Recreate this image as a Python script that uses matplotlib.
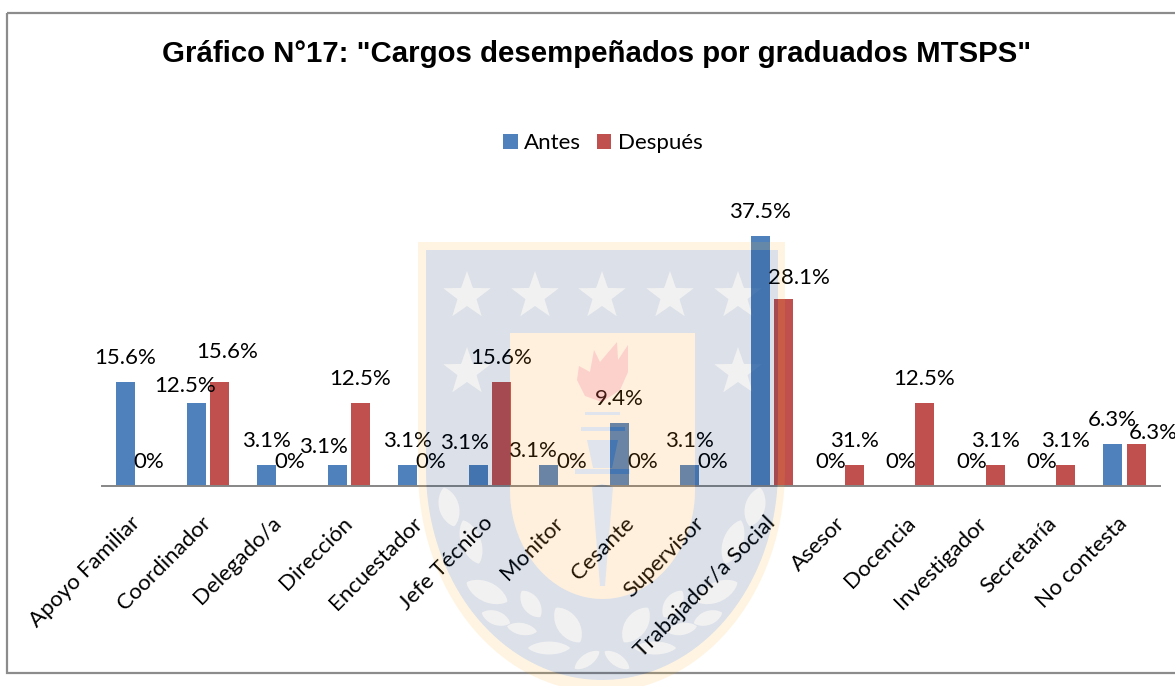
# -*- coding: utf-8 -*-
"""
Grafico N17: cargos desempenados por graduados MTSPS
"""

import numpy as np
import matplotlib
matplotlib.use('Agg')
import matplotlib.pyplot as plt
from matplotlib.path import Path
from matplotlib.patches import PathPatch, Polygon, Rectangle

categories = ['Apoyo Familiar', 'Coordinador', 'Delegado/a', 'Dirección', 'Encuestador',
              'Jefe Técnico', 'Monitor', 'Cesante', 'Supervisor', 'Trabajador/a Social',
              'Asesor', 'Docencia', 'Investigador', 'Secretaría', 'No contesta']
antes = [15.6, 12.5, 3.1, 3.1, 3.1, 3.1, 3.1, 9.4, 3.1, 37.5, 0, 0, 0, 0, 6.3]
despues = [0, 15.6, 0, 12.5, 0, 15.6, 0, 0, 0, 28.1, 3.1, 12.5, 3.1, 3.1, 6.3]
antes_labels = ['15.6%', '12.5%', '3.1%', '3.1%', '3.1%', '3.1%', '3.1%', '9.4%', '3.1%',
                '37.5%', '0%', '0%', '0%', '0%', '6.3%']
despues_labels = ['0%', '15.6%', '0%', '12.5%', '0%', '15.6%', '0%', '0%', '0%', '28.1%',
                  '31.%', '12.5%', '3.1%', '3.1%', '6.3%']

# hand-placed data labels in the original, offsets in pixels from the bar top
antes_nudge = {1: (-11, 17), 3: (-14, 18), 5: (-14, 22), 6: (-16, 14)}
despues_nudge = {1: (8, 30), 9: (15, 21), 14: (17, 11)}

W, H = 1175, 686
BLUE = '#4F81BD'
RED = '#C0504D'
TEXT_FONT = 'Lato'
TEXT_SIZE = 16

fig = plt.figure(figsize=(W / 100, H / 100), dpi=100)
ax = fig.add_axes([102 / W, 1 - 486 / H, (1159.5 - 102) / W, (486 - 219.3) / H])

x = np.arange(len(categories))
width = 19 / 70.5
shift = 11.75 / 70.5
bars_a = ax.bar(x - shift, antes, width, color=BLUE, label='Antes')
bars_d = ax.bar(x + shift, despues, width, color=RED, label='Después')

ax.set_xlim(-0.5, len(categories) - 0.5)
ax.set_ylim(0, 40)
ax.set_yticks([])
ax.set_xticks(x)
ax.set_xticklabels(categories, rotation=45, ha='right', va='center', rotation_mode='anchor',
                   family=TEXT_FONT, fontsize=TEXT_SIZE, color='black')
ax.tick_params(axis='x', length=0, pad=24.5)
for side in ['top', 'left', 'right']:
    ax.spines[side].set_visible(False)
ax.spines['bottom'].set_color('#868686')
ax.spines['bottom'].set_linewidth(1.4)


def put_labels(bars, labels, nudge):
    for i, (bar, text) in enumerate(zip(bars, labels)):
        dx, dy = nudge.get(i, (0, 24))
        ax.annotate(text, (bar.get_x() + bar.get_width() / 2, bar.get_height()),
                    xytext=(dx, dy), textcoords='offset pixels', ha='center', va='center',
                    family=TEXT_FONT, fontsize=TEXT_SIZE, color='black',
                    annotation_clip=False)


put_labels(bars_a, antes_labels, antes_nudge)
put_labels(bars_d, despues_labels, despues_nudge)

fig.text(597 / W, 1 - 53.5 / H, 'Gráfico N°17: "Cargos desempeñados por graduados MTSPS"',
         family='Liberation Sans', fontweight='bold', fontsize=21.15, ha='center', va='center')

fig.legend(handles=[bars_a, bars_d], loc='center', bbox_to_anchor=(603 / W, 1 - 143 / H),
           ncol=2, frameon=False, prop={'family': TEXT_FONT, 'size': TEXT_SIZE},
           handlelength=0.64, handleheight=0.64, handletextpad=0.3, columnspacing=0.7)

# overlay in pixel coordinates for the chart frame and the watermark
over = fig.add_axes([0, 0, 1, 1], zorder=5)
over.set_xlim(0, W)
over.set_ylim(H, 0)
over.axis('off')
over.patch.set_alpha(0)

over.add_patch(Rectangle((7, 13), W + 20, 660, fill=False, edgecolor='#8c8c8c', linewidth=1.6))


def shield(xl, xr, yt, yc, yb):
    t = np.linspace(0, np.pi, 80)
    xm = (xl + xr) / 2
    arc = np.column_stack([xm + (xr - xl) / 2 * np.cos(t), yc + (yb - yc) * np.sin(t)])
    return np.vstack([[[xl, yt], [xr, yt]], arc])


def star(cx, cy, r):
    a = np.pi / 2 + np.arange(10) * np.pi / 5
    rad = np.where(np.arange(10) % 2 == 0, r, r * 0.4)
    return np.column_stack([cx + rad * np.cos(a), cy - rad * np.sin(a)])


def leaf(cx, cy, length, wide, angle):
    t = np.linspace(0, 2 * np.pi, 30)[:-1]
    px = length / 2 * np.cos(t)
    py = wide / 2 * np.sin(t) * np.sqrt(np.abs(np.sin(t)))
    a = np.radians(angle)
    return np.column_stack([cx + px * np.cos(a) - py * np.sin(a), cy + px * np.sin(a) + py * np.cos(a)])


def area(p):
    return 0.5 * np.sum(p[:, 0] * np.roll(p[:, 1], -1) - np.roll(p[:, 0], -1) * p[:, 1])


def with_holes(outer, holes):
    verts, codes = [], []
    for k, p in enumerate([outer] + holes):
        want_positive = k == 0
        if (area(p) > 0) != want_positive:
            p = p[::-1]
        verts.append(np.vstack([p, p[:1]]))
        codes += [Path.MOVETO] + [Path.LINETO] * (len(p) - 1) + [Path.CLOSEPOLY]
    return Path(np.vstack(verts), codes)


outer = shield(418, 785, 242, 470, 692)
inner = shield(426, 778, 250, 470, 680)
panel = shield(510, 695, 333, 490, 599)

stars = [star(sx, 296, 25) for sx in [467, 535, 602, 670, 738]]
stars += [star(sx, 372, 25) for sx in [467, 738]]

left_leaves = [(449, 507, 40, 20, 75), (471, 542, 46, 20, 70), (487, 592, 45, 20, 25),
               (531, 604, 32, 17, 55), (496, 618, 30, 14, 20), (522, 629, 30, 12, 10),
               (568, 625, 42, 22, 55), (549, 648, 42, 13, 0), (587, 660, 30, 12, -35)]
leaves = []
for lx, ly, ln, wd, ang in left_leaves:
    leaves.append(leaf(lx, ly, ln, wd, ang))
    mirrored = leaf(lx, ly, ln, wd, ang)
    mirrored[:, 0] = 2 * 602 - mirrored[:, 0]
    leaves.append(mirrored)

over.add_patch(PathPatch(with_holes(outer, [inner]), facecolor='#FFB020', edgecolor='none', alpha=0.13))
over.add_patch(PathPatch(with_holes(inner, [panel] + stars + leaves), facecolor='#002864',
                         edgecolor='none', alpha=0.14))
for p in stars + leaves:
    over.add_patch(Polygon(p, facecolor='#000000', edgecolor='none', alpha=0.055))

torch = [[(585, 412), (620, 412), (620, 415), (585, 415)],
         [(581, 427), (625, 427), (625, 431), (581, 431)],
         [(587, 440), (618, 440), (612, 468), (593, 468)],
         [(575, 469), (630, 469), (630, 474), (575, 474)],
         [(592, 487), (602, 484), (613, 487), (605, 586), (600, 586)]]
with_panel_holes = with_holes(panel, [np.array(p, dtype=float) for p in torch])
over.add_patch(PathPatch(with_panel_holes, facecolor='#FF9A20', edgecolor='none', alpha=0.15))
for p in torch:
    over.add_patch(Polygon(p, facecolor='#002864', edgecolor='none', alpha=0.12))

flame = [(602, 402), (585, 396), (577, 380), (579, 366), (590, 372), (594, 350),
         (600, 362), (617, 342), (618, 360), (628, 345), (628, 372), (620, 390)]
over.add_patch(Polygon(flame, facecolor='#F03070', edgecolor='none', alpha=0.16))

fig.savefig('out.png', dpi=100, facecolor='white')
